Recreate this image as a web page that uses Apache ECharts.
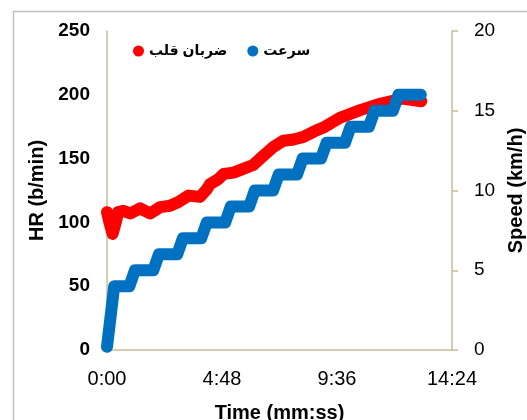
<!DOCTYPE html>
<html>
<head>
<meta charset="utf-8">
<script src="https://cdn.jsdelivr.net/npm/echarts@6/dist/echarts.min.js"></script>
<style>
html,body{margin:0;padding:0;background:#fff;}
#chart{width:527px;height:420px;}
</style>
</head>
<body>
<div id="chart"></div>
<script>
// Data
const hrName = 'ضربان قلب';
const speedName = 'سرعت';
const xTickLabels = ['0:00', '4:48', '9:36', '14:24'];
const hrTicks = [0, 50, 100, 150, 200, 250];
const speedTicks = [0, 5, 10, 15, 20];

const hrTime = [0, 6, 14, 22, 28, 41, 58, 83, 108, 133, 158, 179, 204, 233, 250, 258, 279, 292, 317, 341, 366, 391, 416, 442, 467, 492, 517, 546, 583, 634, 684, 740, 787];
const hrValue = [108, 100, 91, 100, 108, 109, 107, 111, 107, 112, 113, 116, 121, 120, 126, 130, 134, 138, 139, 142, 145, 152, 159, 164, 165, 167, 171, 175, 182, 188, 193, 197, 195];

const speedTime = [0, 18, 56, 70, 116, 130, 176, 190, 236, 250, 296, 310, 356, 370, 416, 430, 476, 490, 536, 550, 596, 610, 656, 670, 716, 730, 786];
const speedValue = [0.2, 4, 4, 5, 5, 6, 6, 7, 7, 8, 8, 9, 9, 10, 10, 11, 11, 12, 12, 13, 13, 14, 14, 15, 15, 16, 16];

const hrData = hrTime.map((t, i) => [t, hrValue[i]]);
const speedData = speedTime.map((t, i) => [t, speedValue[i]]);

const FONT = 'Arial, "Liberation Sans", "DejaVu Sans", sans-serif';
const axisColor = '#C4BD97';
const xStep = 288;

const chart = echarts.init(document.getElementById('chart'), null, {renderer: 'canvas'});
chart.setOption({
  animation: false,
  backgroundColor: '#fff',
  graphic: [{
    type: 'rect',
    shape: {x: 13.5, y: 11.5, width: 700, height: 600},
    style: {fill: 'none', stroke: '#BFBFBF', lineWidth: 1.5},
    silent: true,
    z: -10
  }],
  grid: {left: 107, right: 75, top: 31, bottom: 70, containLabel: false, outerBoundsMode: 'none'},
  legend: {
    left: 128, top: 39,
    icon: 'circle', itemWidth: 11, itemHeight: 11, itemGap: 20,
    textStyle: {fontFamily: FONT, fontSize: 14, fontWeight: 'bold', color: '#000'},
    data: [hrName, speedName]
  },
  xAxis: {
    type: 'value', min: 0, max: 864, interval: xStep,
    axisLine: {show: true, lineStyle: {color: axisColor, width: 1.5}},
    axisTick: {show: false},
    splitLine: {show: false},
    axisLabel: {
      margin: 19, color: '#000', fontFamily: FONT, fontSize: 20,
      formatter: v => xTickLabels[Math.round(v / xStep)]
    },
    name: 'Time (mm:ss)', nameLocation: 'middle', nameGap: 53,
    nameTextStyle: {fontFamily: FONT, fontSize: 20, fontWeight: 'bold', color: '#000'}
  },
  yAxis: [{
    type: 'value', min: hrTicks[0], max: hrTicks[hrTicks.length - 1], interval: hrTicks[1] - hrTicks[0],
    position: 'left',
    axisLine: {show: true, lineStyle: {color: axisColor, width: 1.5}},
    axisTick: {show: false},
    splitLine: {show: false},
    axisLabel: {margin: 17, color: '#000', fontFamily: FONT, fontSize: 19, fontWeight: 'bold'},
    name: 'HR (b/min)', nameLocation: 'middle', nameGap: 51, nameRotate: 90,
    nameTextStyle: {fontFamily: FONT, fontSize: 20, fontWeight: 'bold', color: '#000'}
  }, {
    type: 'value', min: speedTicks[0], max: speedTicks[speedTicks.length - 1], interval: speedTicks[1] - speedTicks[0],
    position: 'right',
    axisLine: {show: true, lineStyle: {color: axisColor, width: 1.5}},
    axisTick: {show: true, inside: false, length: 6, lineStyle: {color: axisColor, width: 1.5}},
    splitLine: {show: false},
    axisLabel: {margin: 22, color: '#000', fontFamily: FONT, fontSize: 19},
    name: 'Speed (km/h)', nameLocation: 'middle', nameGap: 54, nameRotate: 90,
    nameTextStyle: {fontFamily: FONT, fontSize: 20, fontWeight: 'bold', color: '#000'}
  }],
  series: [{
    name: hrName, type: 'line', yAxisIndex: 0, data: hrData,
    symbol: 'none', color: '#FF0000',
    lineStyle: {width: 12, color: '#FF0000', cap: 'round', join: 'round'},
    z: 2
  }, {
    name: speedName, type: 'line', yAxisIndex: 1, data: speedData,
    symbol: 'none', color: '#0070C0',
    lineStyle: {width: 12, color: '#0070C0', cap: 'round', join: 'round'},
    z: 3
  }]
});
</script>
</body>
</html>
